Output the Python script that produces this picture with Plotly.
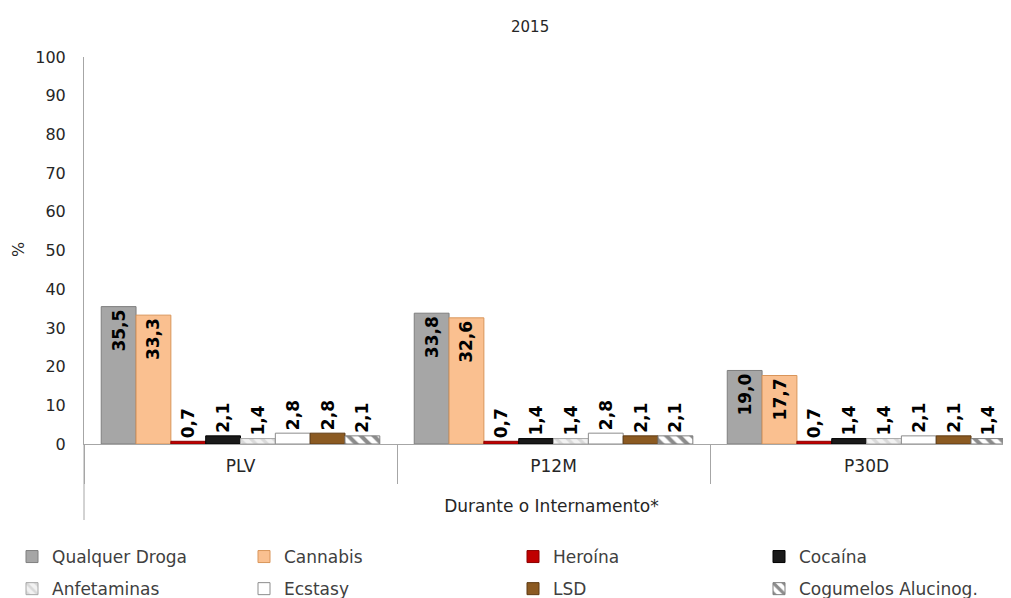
import plotly.graph_objects as go

categories = ["PLV", "P12M", "P30D"]
series_names = ["Qualquer Droga", "Cannabis", "Heroína", "Cocaína",
                "Anfetaminas", "Ecstasy", "LSD", "Cogumelos Alucinog."]
qualquer_droga = [35.5, 33.8, 19.0]
cannabis = [33.3, 32.6, 17.7]
heroina = [0.7, 0.7, 0.7]
cocaina = [2.1, 1.4, 1.4]
anfetaminas = [1.4, 1.4, 1.4]
ecstasy = [2.8, 2.8, 2.1]
lsd = [2.8, 2.1, 2.1]
cogumelos = [2.1, 2.1, 1.4]
y_ticks = list(range(0, 101, 10))

series_values = [qualquer_droga, cannabis, heroina, cocaina,
                 anfetaminas, ecstasy, lsd, cogumelos]

styles = [
    dict(color="#A6A6A6", line=dict(color="#7F7F7F", width=1)),
    dict(color="#FAC090", line=dict(color="#D9955A", width=1)),
    dict(color="#C00000", line=dict(color="#8B0000", width=1)),
    dict(color="#1A1A1A", line=dict(color="#000000", width=1)),
    dict(color="#FFFFFF", line=dict(color="#A6A6A6", width=1),
         pattern=dict(shape="\\", fgcolor="#BFBFBF", bgcolor="#F2F2F2", size=8, solidity=0.4)),
    dict(color="#FFFFFF", line=dict(color="#8C8C8C", width=1)),
    dict(color="#8B5A22", line=dict(color="#5E3A12", width=1)),
    dict(color="#FFFFFF", line=dict(color="#7F7F7F", width=1),
         pattern=dict(shape="\\", fgcolor="#1A1A1A", bgcolor="#FFFFFF", size=9, solidity=0.45)),
]

FONT = "DejaVu Sans"
W, H = 1011, 598
plot_left = 76
plot_top, plot_bottom = 49, 436
plot_h = plot_bottom - plot_top
plot_w = W - plot_left
legend_cols_px = [4, 236, 505, 751]

fig = go.Figure()
for i, (name, vals, st) in enumerate(zip(series_names, series_values, styles)):
    leg = "legend" if i % 4 == 0 else f"legend{i % 4 + 1}"
    fig.add_trace(go.Bar(
        name=name, x=categories, y=vals, marker=st,
        legend=leg, legendgroup=name,
        text=[f"{v:.1f}".replace(".", ",") for v in vals],
        textposition="auto", textangle=-90,
        insidetextanchor="end",
        textfont=dict(family=FONT, size=17, color="#000000", weight="bold"),
        insidetextfont=dict(family=FONT, size=17, color="#000000", weight="bold"),
        outsidetextfont=dict(family=FONT, size=17, color="#000000", weight="bold"),
        cliponaxis=False,
    ))

legend_common = dict(orientation="v", xref="container", yref="container",
                     y=1 - 531 / H, yanchor="top", xanchor="left",
                     font=dict(family=FONT, size=17, color="#404040"),
                     itemwidth=30, tracegroupgap=7, traceorder="grouped",
                     bgcolor="rgba(0,0,0,0)")
legends = {}
for k, xpx in enumerate(legend_cols_px):
    key = "legend" if k == 0 else f"legend{k + 1}"
    legends[key] = dict(legend_common, x=xpx / W)

fig.update_layout(
    width=W, height=H,
    margin=dict(l=plot_left, r=0, t=plot_top, b=H - plot_bottom, autoexpand=False),
    paper_bgcolor="white", plot_bgcolor="white",
    barmode="group", bargap=0.11, bargroupgap=0,
    font=dict(family=FONT, color="#404040", size=15),
    showlegend=True,
    xaxis=dict(
        type="category", range=[-0.5, 2.487],
        showline=True, linecolor="#A6A6A6", linewidth=1,
        ticks="outside", tickson="boundaries", ticklen=39, tickcolor="#A6A6A6",
        ticklabelstandoff=7,
        tickfont=dict(family=FONT, size=17, color="#262626"),
        title=dict(text="Durante o Internamento*", standoff=24,
                   font=dict(family=FONT, size=17, color="#262626")),
        showgrid=False, zeroline=False,
    ),
    yaxis=dict(
        range=[0, 100], tickvals=y_ticks, showgrid=False, zeroline=False,
        showline=True, linecolor="#A6A6A6", linewidth=1,
        ticks="", ticklabelstandoff=14,
        tickfont=dict(family=FONT, size=16, color="#262626"),
    ),
    shapes=[dict(type="line", xref="paper", yref="paper", x0=0, x1=0,
                 y0=0, y1=-(512 - plot_bottom) / plot_h,
                 line=dict(color="#A6A6A6", width=1))],
    annotations=[
        dict(text="2015", xref="paper", yref="paper", x=(522 - plot_left) / plot_w,
             y=1 + (plot_top - 19) / plot_h,
             showarrow=False, yanchor="middle", font=dict(family=FONT, size=15, color="#262626")),
        dict(text="%", xref="paper", yref="paper", x=(10 - plot_left) / plot_w,
             y=1 - (242 - plot_top) / plot_h,
             textangle=-90, showarrow=False, xanchor="center", yanchor="middle",
             font=dict(family=FONT, size=16, color="#262626")),
    ],
    **legends,
)

fig.write_html("out.html")
